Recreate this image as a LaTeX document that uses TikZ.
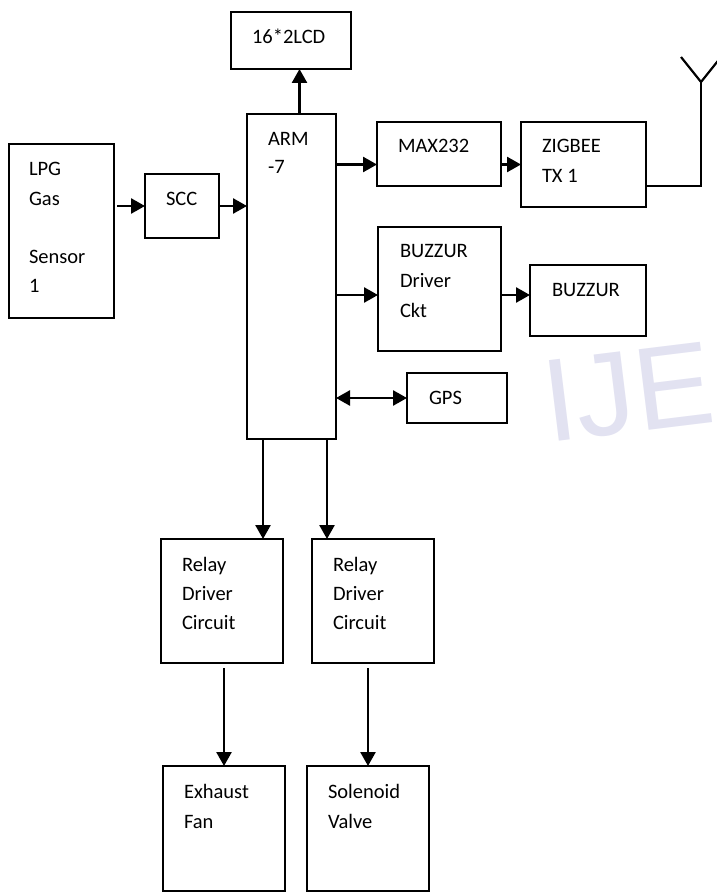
\documentclass[tikz,border=0pt]{standalone}
\usepackage{fontspec}
\setmainfont{Carlito}
\newfontfamily\wmfont{Liberation Sans}
\usetikzlibrary{arrows.meta,calc}
\definecolor{wmcol}{RGB}{226,226,241}
\tikzset{
  blk/.style={draw, line width=2pt, rectangle, inner sep=0pt, outer sep=0pt, anchor=north west},
  lbl/.style={anchor=base west, inner sep=0pt, outer sep=0pt, font=\fontsize{20.5}{29}\selectfont},
  arr/.style={line width=2.6pt, -{Triangle[length=14pt,width=15pt]}},
  darr/.style={line width=2.6pt, {Triangle[length=14pt,width=15pt]}-{Triangle[length=14pt,width=15pt]}},
  wire/.style={line width=2.2pt},
  wm/.style={anchor=base west, inner sep=0pt, text=wmcol, font=\wmfont\fontsize{118}{118}\selectfont, rotate=7}
}
\begin{document}
\begin{tikzpicture}[x=1pt,y=-1pt]
\useasboundingbox (0,0) rectangle (716,893);
% watermark
\node[wm] (wm) at (548,443) {IJE};
% boxes
\node[blk, minimum width=120pt, minimum height=57pt] (lcd) at (231,12) {};
\node[blk, minimum width=89pt, minimum height=325pt] (arm) at (247,114) {};
\node[blk, minimum width=105pt, minimum height=174pt] (lpg) at (9,144) {};
\node[blk, minimum width=74pt, minimum height=64pt] (scc) at (145,174) {};
\node[blk, minimum width=124pt, minimum height=64pt] (max) at (377,122) {};
\node[blk, minimum width=125pt, minimum height=85pt] (zig) at (521,122) {};
\node[blk, minimum width=123pt, minimum height=124pt] (bdrv) at (378,227) {};
\node[blk, minimum width=116pt, minimum height=71pt] (buz) at (530,265) {};
\node[blk, minimum width=100pt, minimum height=50pt] (gps) at (407,373) {};
\node[blk, minimum width=122pt, minimum height=124pt] (rel1) at (161,539) {};
\node[blk, minimum width=122pt, minimum height=124pt] (rel2) at (312,539) {};
\node[blk, minimum width=122pt, minimum height=125pt] (fan) at (163,766) {};
\node[blk, minimum width=122pt, minimum height=125pt] (sol) at (307,766) {};
% labels
\node[lbl] (tlcd) at (252,44) {16*2LCD};
\node[lbl] (tarm1) at (268,146) {ARM};
\node[lbl] (tarm2) at (268,174) {-7};
\node[lbl] (tlpg1) at (29,176) {LPG};
\node[lbl] (tlpg2) at (29,206) {Gas};
\node[lbl] (tlpg3) at (29,263) {Sensor};
\node[lbl] (tlpg4) at (29,292) {1};
\node[lbl] (tscc) at (166,206) {SCC};
\node[lbl] (tmax) at (398,153) {MAX232};
\node[lbl] (tzig1) at (542,153) {ZIGBEE};
\node[lbl] (tzig2) at (542,183) {TX 1};
\node[lbl] (tbd1) at (400,257) {BUZZUR};
\node[lbl] (tbd2) at (400,287) {Driver};
\node[lbl] (tbd3) at (400,317) {Ckt};
\node[lbl] (tbuz) at (552,296) {BUZZUR};
\node[lbl] (tgps) at (429,404) {GPS};
\node[lbl] (tr1a) at (182,571) {Relay};
\node[lbl] (tr1b) at (182,600) {Driver};
\node[lbl] (tr1c) at (182,629) {Circuit};
\node[lbl] (tr2a) at (333,571) {Relay};
\node[lbl] (tr2b) at (333,600) {Driver};
\node[lbl] (tr2c) at (333,629) {Circuit};
\node[lbl] (tfan1) at (184,798) {Exhaust};
\node[lbl] (tfan2) at (184,828) {Fan};
\node[lbl] (tsol1) at (328,798) {Solenoid};
\node[lbl] (tsol2) at (328,828) {Valve};
% connectors
\draw[arr, shorten <=3pt] (lpg.east |- scc.west) -- (scc.west);
\draw[arr] (scc.east) -- (scc.east -| arm.west);
\draw[arr] ([xshift=8pt]arm.north) -- ([xshift=8pt]arm.north |- lcd.south);
\draw[arr] (arm.east |- zig.west) -- (max.west |- zig.west);
\draw[arr] (max.east |- zig.west) -- (zig.west);
\coordinate (ant) at (701,82);
\coordinate (antL) at (681,57);
\coordinate (antR) at (721,57);
\draw[wire] ([yshift=21pt]zig.south east) -| (ant);
\draw[wire] (antL) -- (ant) -- (antR);
\draw[arr] ([yshift=-6pt]bdrv.west -| arm.east) -- ([yshift=-6pt]bdrv.west);
\draw[arr] ([yshift=-6pt]bdrv.east) -- ([yshift=-6pt]bdrv.east -| buz.west);
\draw[darr] (arm.east |- gps.west) -- (gps.west);
\draw[arr] ([xshift=16pt]arm.south west) -- ([xshift=16pt]arm.south west |- rel1.north);
\draw[arr] ([xshift=-9pt]arm.south east) -- ([xshift=-9pt]arm.south east |- rel2.north);
\draw[arr, shorten <=5pt] (fan.north |- rel1.south) -- (fan.north);
\draw[arr, shorten <=5pt] (sol.north |- rel2.south) -- (sol.north);
\end{tikzpicture}
\end{document}
